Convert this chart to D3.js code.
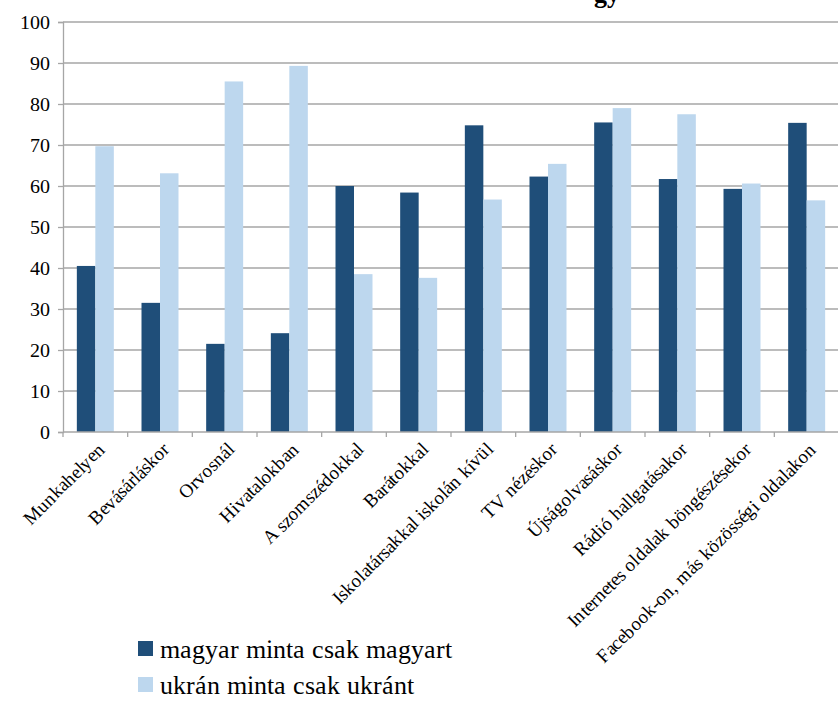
<!DOCTYPE html>
<html>
<head>
<meta charset="utf-8">
<script src="https://cdn.jsdelivr.net/npm/d3@7"></script>
<style>
  @font-face { font-family: 'ChartSerif'; src: local('Liberation Serif'), local('LiberationSerif'), local('Times New Roman'); }
  @font-face { font-family: 'ChartSerif'; font-weight: bold; src: local('Liberation Serif Bold'), local('LiberationSerif-Bold'); }
</style>
</head>
<body style="margin:0;background:#fff">
<svg id="s" width="838" height="724" style="display:block"></svg>
<script>
const categories = [
  'Munkahelyen', 'Bevásárláskor', 'Orvosnál', 'Hivatalokban', 'A szomszédokkal',
  'Barátokkal', 'Iskolatársakkal iskolán kívül', 'TV nézéskor', 'Újságolvasáskor',
  'Rádió hallgatásakor', 'Internetes oldalak böngészésekor', 'Facebook-on, más közösségi oldalakon'
];
const seriesNames = ['magyar minta csak magyart', 'ukrán minta csak ukránt'];
const magyarValues = [40.5, 31.5, 21.5, 24.1, 60.0, 58.4, 74.8, 62.3, 75.5, 61.7, 59.3, 75.4];
const ukranValues = [69.7, 63.1, 85.5, 89.3, 38.5, 37.6, 56.7, 65.4, 79.0, 77.5, 60.6, 56.5];
const yTicks = [0, 10, 20, 30, 40, 50, 60, 70, 80, 90, 100];
const colors = ['#1f4e79', '#bdd7ee'];
const FONT = 'ChartSerif, "Liberation Serif", Tinos, "DejaVu Serif", serif';

const width = 838, height = 724;
const margin = { top: 22, right: -1, bottom: 292, left: 63 };
const innerW = width - margin.left - margin.right;
const innerH = height - margin.top - margin.bottom;

const svg = d3.select('#s');

// title is clipped by the top edge in the source image, only descenders show
svg.append('text')
  .attr('x', 620)
  .attr('y', 2)
  .attr('text-anchor', 'end')
  .style('font-family', FONT)
  .style('font-size', '26px')
  .style('font-weight', 'bold')
  .text('gy');

const g = svg.append('g')
  .attr('transform', `translate(${margin.left},${margin.top})`);

const x = d3.scaleBand()
  .domain(categories)
  .range([0, innerW]);

const y = d3.scaleLinear()
  .domain([0, 100])
  .range([innerH, 0]);

const barW = x.bandwidth() * 0.286;
const x1 = d3.scaleBand()
  .domain(seriesNames)
  .range([x.bandwidth() / 2 - barW, x.bandwidth() / 2 + barW]);

// gridlines
g.append('g')
  .selectAll('line')
  .data(yTicks.slice(1))
  .join('line')
  .attr('x1', 0)
  .attr('x2', innerW)
  .attr('y1', d => y(d))
  .attr('y2', d => y(d))
  .attr('stroke', '#a6a6a6')
  .attr('stroke-width', 1.3);

// y axis
g.append('g')
  .call(d3.axisLeft(y).tickValues(yTicks).tickSize(5).tickPadding(8))
  .attr('font-family', null)
  .attr('font-size', null)
  .call(a => a.select('.domain').attr('stroke', '#a6a6a6').attr('stroke-width', 1.3))
  .call(a => a.selectAll('.tick line').attr('stroke', '#a6a6a6').attr('stroke-width', 1.3))
  .call(a => a.selectAll('.tick text')
    .attr('fill', '#000')
    .style('font-family', FONT)
    .style('font-size', '20px'));

// bars
const rows = categories.map((c, i) => ({ cat: c, vals: [magyarValues[i], ukranValues[i]] }));
const groups = g.append('g')
  .selectAll('g')
  .data(rows)
  .join('g')
  .attr('transform', d => `translate(${x(d.cat)},0)`);

groups.selectAll('rect')
  .data(d => d.vals.map((v, j) => ({ name: seriesNames[j], v, j })))
  .join('rect')
  .attr('x', d => x1(d.name))
  .attr('width', x1.bandwidth())
  .attr('y', d => y(d.v))
  .attr('height', d => innerH - y(d.v))
  .attr('fill', d => colors[d.j]);

// x axis with tick marks at category boundaries
const xAxis = g.append('g')
  .attr('transform', `translate(0,${innerH})`);

xAxis.append('line')
  .attr('x1', 0)
  .attr('x2', innerW)
  .attr('stroke', '#a6a6a6')
  .attr('stroke-width', 1.3);

xAxis.selectAll('line.tk')
  .data(categories)
  .join('line')
  .attr('class', 'tk')
  .attr('x1', d => x(d))
  .attr('x2', d => x(d))
  .attr('y1', 0)
  .attr('y2', 5)
  .attr('stroke', '#a6a6a6')
  .attr('stroke-width', 1.3);

xAxis.selectAll('text')
  .data(categories)
  .join('text')
  .attr('transform', d => `translate(${x(d) + x.bandwidth() / 2 + 6},${14}) rotate(-45)`)
  .attr('text-anchor', 'end')
  .attr('dy', '0.35em')
  .style('font-family', FONT)
  .style('font-size', '19px')
  .text(d => d);

// legend
const legend = svg.append('g')
  .attr('transform', 'translate(138,641)');

const items = legend.selectAll('g')
  .data(seriesNames)
  .join('g')
  .attr('transform', (d, i) => `translate(0,${i * 36})`);

items.append('rect')
  .attr('width', 15)
  .attr('height', 15)
  .attr('fill', (d, i) => colors[i]);

items.append('text')
  .attr('x', 22)
  .attr('y', 8)
  .attr('dy', '0.35em')
  .style('font-family', FONT)
  .style('font-size', '26px')
  .text(d => d);
</script>
</body>
</html>
